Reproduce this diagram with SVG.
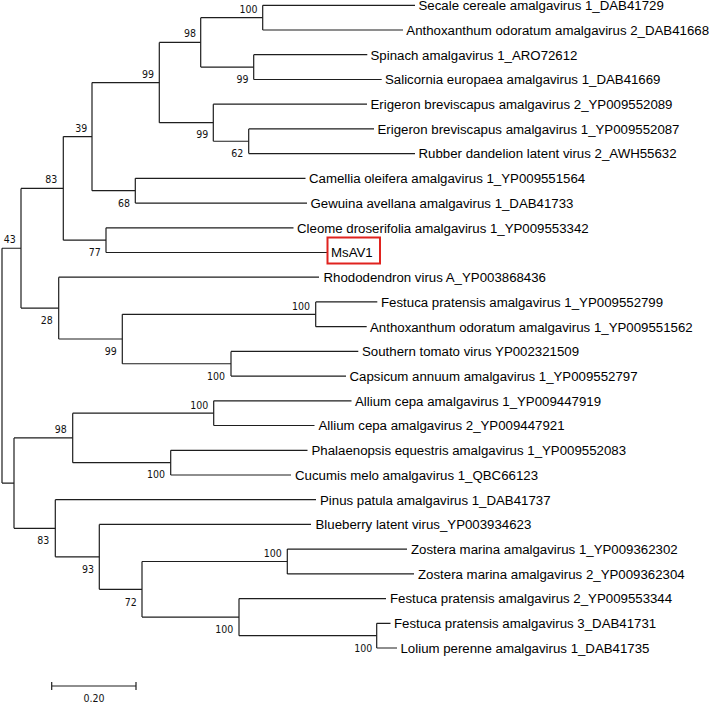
<svg xmlns="http://www.w3.org/2000/svg" width="709" height="703" viewBox="0 0 709 703">
<style>
.e{fill:none;stroke:#1e1e1e;stroke-width:1.2}
.t{font-family:"Liberation Sans",Arial,sans-serif;font-size:13.25px;fill:#000}
.b{font-family:"DejaVu Sans Condensed","DejaVu Sans",sans-serif;font-size:10.5px;fill:#111;text-anchor:end}
.hl{fill:none;stroke:#e0231f;stroke-width:2}
</style>
<rect width="709" height="703" fill="#fff"/>
<g id="connectors" class="e">
<path d="M2,248.25V483.1M2,248.25H21M2,483.1H14"/>
<path d="M21,188.4V308.1M21,188.4H63.3M21,308.1H58.7"/>
<path d="M63.3,136.6V240.15M63.3,136.6H92M63.3,240.15H106"/>
<path d="M92,82.55V190.7M92,82.55H159.3M92,190.7H135.3"/>
<path d="M159.3,42.4V122.7M159.3,42.4H200.7M159.3,122.7H213.3"/>
<path d="M200.7,17.65V67.1M200.7,17.65H262.7M200.7,67.1H253.7"/>
<path d="M262.7,5.3V30M262.7,5.3H415M262.7,30H403"/>
<path d="M253.7,54.7V79.5M253.7,54.7H367.3M253.7,79.5H381.7"/>
<path d="M213.3,104.2V141.25M213.3,104.2H367M213.3,141.25H248.7"/>
<path d="M248.7,128.9V153.6M248.7,128.9H374M248.7,153.6H415"/>
<path d="M135.3,178.3V203.1M135.3,178.3H305.5M135.3,203.1H307"/>
<path d="M106,227.8V252.5M106,227.8H293.5M106,252.5H327"/>
<path d="M58.7,277.2V339M58.7,277.2H319M58.7,339H122.3"/>
<path d="M122.3,314.3V363.75M122.3,314.3H315.7M122.3,363.75H231"/>
<path d="M315.7,301.9V326.7M315.7,301.9H377.3M315.7,326.7H366.7"/>
<path d="M231,351.4V376.1M231,351.4H358.3M231,376.1H346"/>
<path d="M14,437.9V528.3M14,437.9H72.7M14,528.3H55.3"/>
<path d="M72.7,413.15V462.65M72.7,413.15H213.7M72.7,462.65H170.7"/>
<path d="M213.7,400.8V425.5M213.7,400.8H351.5M213.7,425.5H314.5"/>
<path d="M170.7,450.3V475M170.7,450.3H307.5M170.7,475H291"/>
<path d="M55.3,499.7V556.85M55.3,499.7H316M55.3,556.85H99.3"/>
<path d="M99.3,524.4V589.3M99.3,524.4H311M99.3,589.3H142"/>
<path d="M142,561.5V617.1M142,561.5H287.3M142,617.1H239"/>
<path d="M287.3,549.1V573.9M287.3,549.1H407M287.3,573.9H414"/>
<path d="M239,598.6V635.65M239,598.6H386M239,635.65H376.7"/>
<path d="M376.7,623.3V648M376.7,623.3H390.5M376.7,648H397"/>
</g>
<g id="bootstrap">
<text class="b" x="257.5" y="12.7">100</text>
<text class="b" x="196" y="37.3">98</text>
<text class="b" x="248.5" y="82.7">99</text>
<text class="b" x="154" y="77.7">99</text>
<text class="b" x="208.3" y="138.3">99</text>
<text class="b" x="243.3" y="156.7">62</text>
<text class="b" x="87.3" y="131.7">39</text>
<text class="b" x="130" y="206.7">68</text>
<text class="b" x="57.3" y="183.3">83</text>
<text class="b" x="15.7" y="242.7">43</text>
<text class="b" x="100.7" y="256">77</text>
<text class="b" x="52.7" y="324.3">28</text>
<text class="b" x="310" y="310">100</text>
<text class="b" x="116.7" y="355">99</text>
<text class="b" x="225" y="380">100</text>
<text class="b" x="208.3" y="409">100</text>
<text class="b" x="66.7" y="433.3">98</text>
<text class="b" x="165" y="478.3">100</text>
<text class="b" x="49.3" y="544">83</text>
<text class="b" x="94" y="572.7">93</text>
<text class="b" x="281.7" y="556.7">100</text>
<text class="b" x="136.7" y="605.7">72</text>
<text class="b" x="233.3" y="633.3">100</text>
<text class="b" x="372.3" y="652">100</text>
</g>
<g id="leaf01"><text class="t" x="418.5" y="10.4">Secale cereale amalgavirus 1_DAB41729</text></g>
<g id="leaf02"><text class="t" x="406.3" y="34.8">Anthoxanthum odoratum amalgavirus 2_DAB41668</text></g>
<g id="leaf03"><text class="t" x="370.5" y="59.5">Spinach amalgavirus 1_ARO72612</text></g>
<g id="leaf04"><text class="t" x="385" y="84.3">Salicornia europaea amalgavirus 1_DAB41669</text></g>
<g id="leaf05"><text class="t" x="370.5" y="109">Erigeron breviscapus amalgavirus 2_YP009552089</text></g>
<g id="leaf06"><text class="t" x="377.5" y="133.7">Erigeron breviscapus amalgavirus 1_YP009552087</text></g>
<g id="leaf07"><text class="t" x="418.5" y="158.4">Rubber dandelion latent virus 2_AWH55632</text></g>
<g id="leaf08"><text class="t" x="309" y="183.1">Camellia oleifera amalgavirus 1_YP009551564</text></g>
<g id="leaf09"><text class="t" x="310.5" y="207.9">Gewuina avellana amalgavirus 1_DAB41733</text></g>
<g id="leaf10"><text class="t" x="297" y="232.6">Cleome droserifolia amalgavirus 1_YP009553342</text></g>
<g id="leaf11"><rect class="hl" x="327.5" y="237.5" width="52.5" height="26"/><text class="t" x="331" y="257.3">MsAV1</text></g>
<g id="leaf12"><text class="t" x="323.5" y="282">Rhododendron virus A_YP003868436</text></g>
<g id="leaf13"><text class="t" x="381" y="306.7">Festuca pratensis amalgavirus 1_YP009552799</text></g>
<g id="leaf14"><text class="t" x="370" y="331.5">Anthoxanthum odoratum amalgavirus 1_YP009551562</text></g>
<g id="leaf15"><text class="t" x="362" y="356.2">Southern tomato virus YP002321509</text></g>
<g id="leaf16"><text class="t" x="349.5" y="380.9">Capsicum annuum amalgavirus 1_YP009552797</text></g>
<g id="leaf17"><text class="t" x="355" y="405.6">Allium cepa amalgavirus 1_YP009447919</text></g>
<g id="leaf18"><text class="t" x="318.5" y="430.3">Allium cepa amalgavirus 2_YP009447921</text></g>
<g id="leaf19"><text class="t" x="311.5" y="455.1">Phalaenopsis equestris amalgavirus 1_YP009552083</text></g>
<g id="leaf20"><text class="t" x="295" y="479.8">Cucumis melo amalgavirus 1_QBC66123</text></g>
<g id="leaf21"><text class="t" x="320" y="504.5">Pinus patula amalgavirus 1_DAB41737</text></g>
<g id="leaf22"><text class="t" x="315.5" y="529.2">Blueberry latent virus_YP003934623</text></g>
<g id="leaf23"><text class="t" x="411" y="553.9">Zostera marina amalgavirus 1_YP009362302</text></g>
<g id="leaf24"><text class="t" x="418" y="578.7">Zostera marina amalgavirus 2_YP009362304</text></g>
<g id="leaf25"><text class="t" x="390" y="603.4">Festuca pratensis amalgavirus 2_YP009553344</text></g>
<g id="leaf26"><text class="t" x="394" y="628.1">Festuca pratensis amalgavirus 3_DAB41731</text></g>
<g id="leaf27"><text class="t" x="400.5" y="652.8">Lolium perenne amalgavirus 1_DAB41735</text></g>
<g id="scalebar">
<path class="e" d="M51.7,686H136M51.7,682V690M136,682V690"/>
<text class="b" x="94" y="701.5" style="text-anchor:middle">0.20</text>
</g>
</svg>
